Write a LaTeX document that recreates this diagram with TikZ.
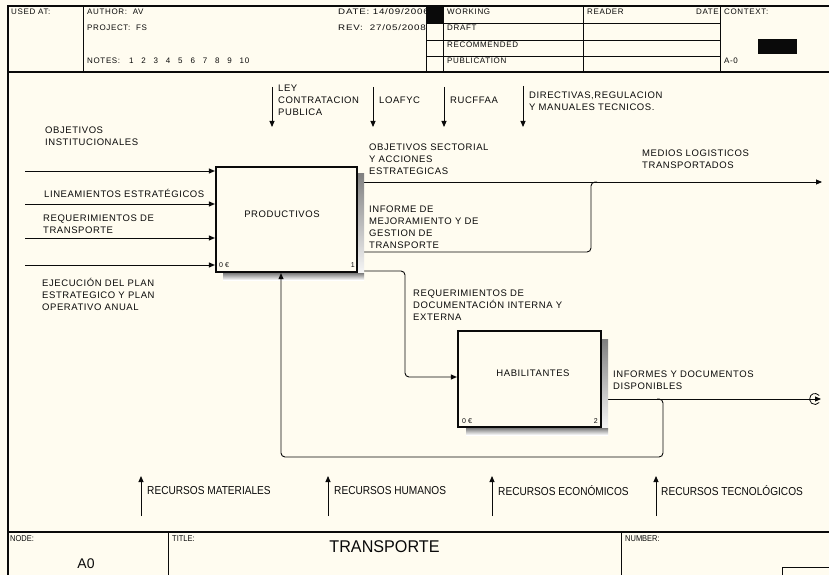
\documentclass[tikz,border=0pt]{standalone}
\usepackage{fontspec}
\setmainfont{Liberation Sans}
\newfontfamily\lblfont[LetterSpace=6]{Liberation Sans}
\newfontfamily\hdrfont[LetterSpace=8]{Liberation Sans}
\usetikzlibrary{arrows.meta}
\definecolor{paper}{HTML}{FFFCF0}
\definecolor{ink}{HTML}{0A0A0A}
\definecolor{shade}{HTML}{B0B0B0}
\newcommand{\narrow}[1]{\scalebox{0.88}[1]{#1}}
\newcommand{\wide}[1]{\scalebox{1.22}[1]{#1}}

\begin{document}
\begin{tikzpicture}[x=1pt,y=-1pt,
  frame/.style={draw=ink,line width=1.2pt},
  rule/.style={draw=ink,line width=0.9pt},
  flow/.style={draw=ink,line width=0.9pt,rounded corners=4pt},
  tip/.style={-{Triangle[length=6pt,width=5pt]}},
  lbl/.style={font=\lblfont\fontsize{9.5}{12}\selectfont,align=left,anchor=north west,inner sep=0pt,text=ink},
  hdr/.style={font=\hdrfont\fontsize{8}{9}\selectfont,anchor=north west,inner sep=0pt,text=ink},
  mech/.style={font=\fontsize{11.5}{13}\selectfont,anchor=west,inner sep=0pt,text=ink},
  foot/.style={font=\fontsize{8.5}{10}\selectfont,anchor=north west,inner sep=0pt,text=ink},
  small/.style={font=\fontsize{7}{8}\selectfont,inner sep=0pt,text=ink},
  procbox/.style={draw=ink,line width=2.2pt,inner sep=0pt},
  title/.style={font=\lblfont\fontsize{9.5}{12}\selectfont,inner sep=0pt,text=ink}
]
% page and bounding box
\fill[paper] (0,0) rectangle (829,575);
\useasboundingbox (0,0) rectangle (829,575);

% ---------- sheet frame ----------
\draw[frame] (829,6) -- (8,6) -- (8,575);
\draw[frame] (8,72) -- (829,72);
\draw[frame] (8,532) -- (829,532);

% header grid
\draw[rule] (83,6) -- (83,72);
\draw[rule] (426,6) -- (426,72);
\draw[rule] (443,6) -- (443,72);
\draw[rule] (583,6) -- (583,72);
\draw[rule] (720,6) -- (720,72);
\draw[rule] (426,23) -- (720,23);
\draw[rule] (426,40) -- (720,40);
\draw[rule] (426,56) -- (720,56);

% header texts
\node[hdr] (usedat) at (11,9) {USED AT:};
\node[hdr] (author) at (87,9) {AUTHOR:\ \ AV};
\node[hdr] (project) at (87,25) {PROJECT:\ \ FS};
\node[hdr] (notes) at (87,58) {NOTES:};
\foreach \k in {1,...,10}{
  \node[hdr] (note\k) at ({116.5+12.3*\k},58) {\k};
}
\node[hdr] (date) at (338,9) {\wide{DATE: 14/09/2006}};
\node[hdr] (rev) at (338,25) {\wide{REV:\ \ 27/05/2008}};
\fill[ink] (426,6) rectangle (443,23);
\node[hdr] (working) at (447,9) {WORKING};
\node[hdr] (draft) at (447,25) {DRAFT};
\node[hdr] (recom) at (447,42) {RECOMMENDED};
\node[hdr] (public) at (447,58) {PUBLICATION};
\node[hdr] (reader) at (587,9) {READER};
\node[hdr,anchor=north east] (rdate) at (719,9) {DATE};
\node[hdr] (context) at (724,9) {CONTEXT:};
\node[hdr] (aref) at (724,58) {A-0};
\fill[ink] (758,39) rectangle (797,54);

% footer
\draw[rule] (168,532) -- (168,575);
\draw[rule] (621,532) -- (621,575);
\draw[rule] (782,575) -- (782,567) -- (829,567);
\node[foot] (nodelbl) at (10,535) {\narrow{NODE:}};
\node[foot] (titlelbl) at (172,535) {\narrow{TITLE:}};
\node[foot] (numlbl) at (625,535) {\narrow{NUMBER:}};
\node[font=\fontsize{14}{16}\selectfont,inner sep=0pt,text=ink] (nodeval) at (86,563.5) {A0};
\node[font=\fontsize{17}{19}\selectfont,inner sep=0pt,text=ink] (titleval) at (384.5,546.5) {\scalebox{0.95}[1]{TRANSPORTE}};

% ---------- activity boxes ----------
\node[procbox,minimum width=141pt,minimum height=105pt] (p1) at (286.5,219.5) {};
\node[procbox,minimum width=143pt,minimum height=96pt] (p2) at (529.5,379) {};
\node[title] (p1t) at (282,214.5) {PRODUCTIVOS};
\node[title] (p2t) at (533,373.5) {HABILITANTES};
\node[small,anchor=west] (p1c) at (219,265) {0 \texteuro};
\node[small,anchor=east] (p1n) at (355,265) {1};
\node[small,anchor=west] (p2c) at (462,421) {0 \texteuro};
\node[small,anchor=east] (p2n) at (598,421) {2};

% ---------- inputs ----------
\coordinate (in1) at (25,171);
\coordinate (in2) at (25,204);
\coordinate (in3) at (25,238);
\coordinate (in4) at (25,265);
\foreach \c in {in1,in2,in3,in4}{
  \draw[rule,tip] (\c) -- (\c -| p1.west);
}
\node[lbl] (l1) at (45,127) {OBJETIVOS\\INSTITUCIONALES};
\node[lbl] (l2) at (44,189) {LINEAMIENTOS ESTRATÉGICOS};
\node[lbl] (l3) at (43,215) {REQUERIMIENTOS DE\\TRANSPORTE};
\node[lbl] (l4) at (42,278) {EJECUCIÓN DEL PLAN\\ESTRATEGICO Y PLAN\\OPERATIVO ANUAL};

% ---------- controls ----------
\coordinate (c1a) at (272,87);  \coordinate (c1b) at (272,127);
\coordinate (c2a) at (373,87);  \coordinate (c2b) at (373,127);
\coordinate (c3a) at (444,87);  \coordinate (c3b) at (444,127);
\coordinate (c4a) at (523,86);  \coordinate (c4b) at (523,127);
\foreach \c in {c1,c2,c3,c4}{
  \draw[rule,tip] (\c a) -- (\c b);
}
\node[lbl] (k1) at (278,85) {LEY\\CONTRATACION\\PUBLICA};
\node[lbl] (k2) at (379,97) {LOAFYC};
\node[lbl] (k3) at (450,97) {RUCFFAA};
\node[lbl] (k4) at (529,92) {DIRECTIVAS,REGULACION\\Y MANUALES TECNICOS.};

% ---------- outputs ----------
\coordinate (o1e) at (822,182);
\draw[rule,tip] (p1.east |- o1e) -- (o1e);
\coordinate (o2j) at (591,182);
\coordinate (o2y) at (0,252);
\draw[flow] (p1.east |- o2y) -- (o2j |- o2y) -- (o2j) -- ++(6,0);
\coordinate (o3k) at (405,271);
\coordinate (h2y) at (0,377);
\draw[flow,tip] (p1.east |- o3k) -- (o3k) -- (o3k |- h2y) -- (p2.west |- h2y);
\coordinate (o4e) at (821,399);
\draw[rule,tip] (p2.east |- o4e) -- (o4e);
\coordinate (tun) at (815,399);
\draw[ink,line width=0.8pt] (tun) ++(40:5.5) arc[start angle=40,end angle=320,radius=5.5];

% ---------- box shadows ----------
\fill[shade] (358.2,173) rectangle (364,280);
\fill[shade] (223,273.2) rectangle (364,280);
\fill[shade] (602.2,339) rectangle (608,435);
\fill[shade] (466,428.2) rectangle (608,435);

% feedback from the second activity to the first
\coordinate (fbj) at (663,399);
\coordinate (fbb) at (0,457);
\coordinate (fbx) at (281,0);
\draw[flow,tip] (657,399) -- (fbj) -- (fbj |- fbb) -- (fbx |- fbb) -- (fbx |- p1.south);

\node[lbl] (q1) at (369,144) {OBJETIVOS SECTORIAL\\Y ACCIONES\\ESTRATEGICAS};
\node[lbl] (q2) at (642,150) {MEDIOS LOGISTICOS\\TRANSPORTADOS};
\node[lbl] (q3) at (369,206) {INFORME DE\\MEJORAMIENTO Y DE\\GESTION DE\\TRANSPORTE};
\node[lbl] (q4) at (413,290) {REQUERIMIENTOS DE\\DOCUMENTACIÓN INTERNA Y\\EXTERNA};
\node[lbl] (q5) at (613,371) {INFORMES Y DOCUMENTOS\\DISPONIBLES};

% ---------- mechanisms ----------
\coordinate (m1a) at (141,516); \coordinate (m1b) at (141,476);
\coordinate (m2a) at (328,516); \coordinate (m2b) at (328,476);
\coordinate (m3a) at (492,516); \coordinate (m3b) at (492,476);
\coordinate (m4a) at (656,516); \coordinate (m4b) at (656,476);
\foreach \c in {m1,m2,m3,m4}{
  \draw[rule,tip] (\c a) -- (\c b);
}
\node[mech] (r1) at (147,490.5) {\narrow{RECURSOS MATERIALES}};
\node[mech] (r2) at (334,490.5) {\narrow{RECURSOS HUMANOS}};
\node[mech] (r3) at (498,490.5) {\narrow{RECURSOS ECONÓMICOS}};
\node[mech] (r4) at (661,490.5) {\narrow{RECURSOS TECNOLÓGICOS}};
\end{tikzpicture}
\end{document}
